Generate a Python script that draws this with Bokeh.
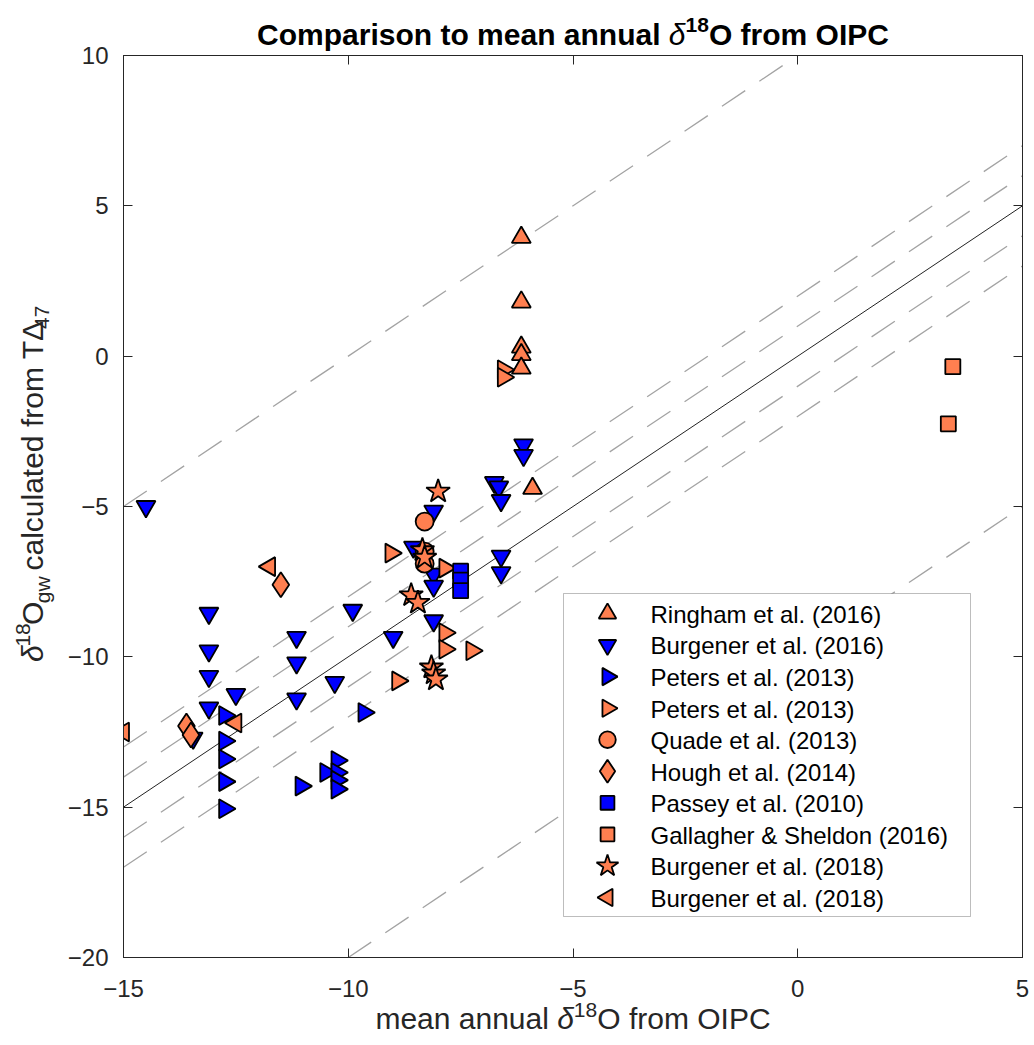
import numpy as np
from bokeh.plotting import figure
from bokeh.models import Range1d, FixedTicker, LinearAxis, Label, BoxAnnotation
from bokeh.layouts import column, row
from bokeh.embed import file_html
from bokeh.resources import INLINE

FONT = "Liberation Sans"
ORANGE = "#FF7F50"
BLUE = "#0000FF"
AX = "#262626"

# ---------------- data ----------------
ringham_x = [-6.15, -6.15, -6.15, -6.15, -6.15, -5.9]
ringham_y = [3.95, 1.8, 0.3, 0.05, -0.4, -4.4]

burgener16_x = [-14.5, -13.1, -13.1, -13.1, -13.1, -12.5, -13.45, -11.15, -11.15, -11.15,
                -10.3, -9.9, -9.0, -8.1, -8.55, -8.1, -8.1, -8.1, -6.1, -6.1,
                -6.75, -6.65, -6.6, -6.6, -6.6]
burgener16_y = [-5.0, -8.55, -9.8, -10.65, -11.7, -11.25, -12.7, -9.35, -10.2, -11.4,
                -10.85, -8.45, -9.35, -5.15, -6.35, -7.25, -7.65, -8.8, -2.95, -3.3,
                -4.2, -4.35, -4.8, -6.65, -7.2]

peters_blue_x = [-12.75, -12.75, -12.75, -12.75, -12.75, -11.05, -10.5, -10.25, -10.25, -10.25, -10.25, -9.65]
peters_blue_y = [-11.95, -12.8, -13.4, -14.15, -15.05, -14.3, -13.85, -13.45, -13.85, -14.1, -14.4, -11.85]

peters_orange_x = [-6.55, -6.55, -9.05, -7.85, -7.85, -7.85, -7.25, -8.9]
peters_orange_y = [-0.45, -0.7, -6.55, -7.05, -9.2, -9.75, -9.8, -10.8]

quade_x = [-8.3, -8.3, -8.3]
quade_y = [-5.5, -6.5, -6.9]

hough_x = [-11.5, -13.6, -13.5]
hough_y = [-7.6, -12.3, -12.6]

passey_x = [-7.5, -7.5, -7.5]
passey_y = [-7.15, -7.45, -7.8]

gallagher_x = [3.45, 3.35]
gallagher_y = [-0.35, -2.25]

burgener18_star_x = [-8.0, -8.35, -8.3, -8.6, -8.45, -8.15, -8.1, -8.05]
burgener18_star_y = [-4.5, -6.45, -6.7, -7.95, -8.2, -10.35, -10.55, -10.75]

burgener18_left_x = [-15.0, -11.75, -12.5]
burgener18_left_y = [-12.5, -7.0, -12.2]

x_ticks = [-15, -10, -5, 0, 5]
y_ticks = [-20, -15, -10, -5, 0, 5, 10]
dashed_offsets = [10, 2, 1, -1, -2, -10]
solid_offset = 0

series = [
    ("Ringham et al. (2016)", ringham_x, ringham_y, "triangle", 0.0, ORANGE, 19),
    ("Burgener et al. (2016)", burgener16_x, burgener16_y, "inverted_triangle", 0.0, BLUE, 19),
    ("Peters et al. (2013)", peters_blue_x, peters_blue_y, "triangle", -np.pi / 2, BLUE, 19),
    ("Peters et al. (2013)", peters_orange_x, peters_orange_y, "triangle", -np.pi / 2, ORANGE, 19),
    ("Quade et al. (2013)", quade_x, quade_y, "circle", 0.0, ORANGE, 18),
    ("Hough et al. (2014)", hough_x, hough_y, "diamond", 0.0, ORANGE, 25),
    ("Passey et al. (2010)", passey_x, passey_y, "square", 0.0, BLUE, 15),
    ("Gallagher & Sheldon (2016)", gallagher_x, gallagher_y, "square", 0.0, ORANGE, 15),
    ("Burgener et al. (2018)", burgener18_star_x, burgener18_star_y, "star", 0.0, ORANGE, 25),
    ("Burgener et al. (2018)", burgener18_left_x, burgener18_left_y, "triangle", np.pi / 2, ORANGE, 19),
]

# ---------------- layout geometry (page pixels) ----------------
TOTAL_W, TOTAL_H = 1034, 1045
FRAME_L, FRAME_T = 123, 55
FW, FH = 899, 902
YLAB_W = 62
TITLE_H, OVER_T = 55, 17          # title strip overlaps main figure's top border
XLAB_H, OVER_B = 50, 14           # x-label strip overlaps main figure's bottom border
MB_LEFT, MB_RIGHT, MB_TOP = FRAME_L - YLAB_W, 12, OVER_T
MAIN_TOP = TITLE_H - OVER_T
MB_BOTTOM = TOTAL_H - (XLAB_H - OVER_B) - (MAIN_TOP + MB_TOP + FH)
MAIN_H = MB_TOP + FH + MB_BOTTOM
BASE_SHIFT = 0.34  # Label baseline correction, in em
EDGE_W = 1.8

# ---------------- main figure ----------------
p = figure(frame_width=FW, frame_height=FH, x_range=Range1d(-15, 5), y_range=Range1d(-20, 10),
           min_border_left=MB_LEFT, min_border_right=MB_RIGHT, min_border_top=MB_TOP,
           min_border_bottom=MB_BOTTOM,
           output_backend="svg", toolbar_location=None, title=None,
           background_fill_color="white", border_fill_alpha=0)
p.xgrid.visible = False
p.ygrid.visible = False
p.outline_line_color = AX
p.extra_x_ranges = {"px": Range1d(0, FW)}
p.extra_y_ranges = {"px": Range1d(0, FH)}


def style_axis(ax, ticks, labels=True):
    ax.ticker = FixedTicker(ticks=ticks)
    ax.axis_line_color = AX
    ax.axis_line_width = 1
    ax.major_tick_line_color = AX
    ax.major_tick_line_width = 1
    ax.major_tick_in = 9
    ax.major_tick_out = 0
    ax.minor_tick_line_color = None
    ax.minor_tick_in = 0
    ax.minor_tick_out = 0
    ax.major_label_text_font = FONT
    ax.major_label_text_color = AX
    ax.major_label_text_font_size = "24px"
    ax.major_label_overrides = {v: str(v).replace("-", "\u2212") for v in ticks}
    ax.major_label_standoff = 22
    if not labels:
        ax.major_label_text_font_size = "0px"
        ax.major_label_text_color = None
        ax.major_label_standoff = 0


style_axis(p.xaxis[0], x_ticks)
style_axis(p.yaxis[0], y_ticks)
p.yaxis[0].major_label_standoff = 15
top_ax = LinearAxis()
right_ax = LinearAxis()
style_axis(top_ax, x_ticks, labels=False)
style_axis(right_ax, y_ticks, labels=False)
p.add_layout(top_ax, "above")
p.add_layout(right_ax, "right")

# reference lines
xs = np.array([-15.0, 5.0])
for off in dashed_offsets:
    p.line(xs, xs + off, line_color="#A3A3A3", line_width=1.3, line_dash="28 17")
p.line(xs, xs + solid_offset, line_color="#222222", line_width=1)

# data
for name, x, y, marker, ang, col, sz in series:
    p.scatter(x, y, marker=marker, angle=ang, size=sz, fill_color=col,
              line_color="black", line_width=EDGE_W)

# ---------------- legend (manual, keeps rotated triangles) ----------------
L_left, L_right, L_top, L_bottom = 440, 847, 364, 41
p.add_layout(BoxAnnotation(left=L_left, right=L_right, top=L_top, bottom=L_bottom,
                           x_range_name="px", y_range_name="px",
                           fill_color="white", fill_alpha=1.0,
                           line_color=AX, line_width=1, level="annotation"))
row0, pitch = L_top - 20, 31.56
for i, (name, x, y, marker, ang, col, sz) in enumerate(series):
    cy = row0 - i * pitch
    r = p.scatter([484], [cy], marker=marker, angle=ang, size=sz * 0.92, fill_color=col,
                  line_color="black", line_width=EDGE_W, x_range_name="px", y_range_name="px")
    r.level = "overlay"
    p.add_layout(Label(x=527, y=cy - 9 + BASE_SHIFT * 24, text=name,
                       x_range_name="px", y_range_name="px",
                       text_font=FONT, text_font_size="24px", text_color="black",
                       text_align="left", text_baseline="alphabetic", level="overlay"))


# ---------------- auxiliary text panels ----------------
def aux(w, h, margin=None):
    f = figure(width=w, height=h, x_range=Range1d(0, w), y_range=Range1d(0, h),
               min_border=0, output_backend="svg", toolbar_location=None, title=None,
               x_axis_location=None, y_axis_location=None,
               background_fill_alpha=0, border_fill_alpha=0)
    f.grid.visible = False
    f.outline_line_color = None
    if margin is not None:
        f.margin = margin
    return f


W = {' ': 0.278, 'a': 0.556, 'b': 0.556, 'c': 0.5, 'd': 0.556, 'e': 0.556, 'f': 0.278, 'g': 0.556,
     'h': 0.556, 'i': 0.222, 'l': 0.222, 'm': 0.833, 'n': 0.556, 'o': 0.556, 'p': 0.556, 'r': 0.333,
     's': 0.5, 't': 0.278, 'u': 0.556, 'w': 0.722, 'C': 0.722, 'I': 0.278, 'O': 0.778, 'P': 0.667,
     'T': 0.611, '\u0394': 1.0, '\u03b4': 0.556}
WB = {' ': 0.278, 'a': 0.556, 'e': 0.556, 'f': 0.333, 'i': 0.278, 'l': 0.278, 'm': 0.889,
      'n': 0.611, 'o': 0.611, 'p': 0.611, 'r': 0.389, 's': 0.556, 't': 0.333, 'u': 0.611,
      'C': 0.722, 'I': 0.278, 'O': 0.778, 'P': 0.667, '\u03b4': 0.556}


def width(text, size, bold):
    table = WB if bold else W
    return sum(table.get(c, 0.556) for c in text) * size


def rich(fig, pieces, center, base, vertical=False, color=AX):
    total = sum(width(t, s, b) for t, s, rz, b, it in pieces)
    pos = center - total / 2
    for t, s, rz, b, it in pieces:
        stripped = t.lstrip(" ")
        lead = width(t[:len(t) - len(stripped)], s, b)
        style = ("bold " if b else "") + ("italic" if it else "")
        style = style.strip() or "normal"
        up = rz + BASE_SHIFT * s
        if vertical:
            lab = Label(x=base - up, y=pos + lead, angle=np.pi / 2, text=stripped)
        else:
            lab = Label(x=pos + lead, y=base + up, text=stripped)
        lab.update(text_font=FONT, text_font_size=f"{s}px", text_font_style=style,
                   text_color=color, text_align="left", text_baseline="alphabetic")
        fig.add_layout(lab)
        pos += width(t, s, b)


title_pieces = [("Comparison to mean annual ", 30, 0, True, False),
                ("\u03b4", 30, 0, False, True),
                ("18", 21, 12, True, False),
                ("O from OIPC", 30, 0, True, False)]
xlabel_pieces = [("mean annual ", 30, 0, False, False),
                 ("\u03b4", 30, 0, False, True),
                 ("18", 21, 11, False, False),
                 ("O from OIPC", 30, 0, False, False)]
ylabel_pieces = [("\u03b4", 30, 0, False, True),
                 ("18", 21, 12, False, False),
                 ("O", 30, 0, False, False),
                 ("gw", 21, -7, False, False),
                 (" calculated from T\u0394", 30, 0, False, False),
                 ("47", 21, -7, False, False)]

frame_cx = FRAME_L + FW / 2

title_fig = aux(TOTAL_W, TITLE_H, margin=(0, 0, -OVER_T, 0))
rich(title_fig, title_pieces, frame_cx, TITLE_H - 44, color="black")

ylab_fig = aux(YLAB_W, MAIN_H)
rich(ylab_fig, ylabel_pieces, (MAIN_TOP + MAIN_H) - 500, 42, vertical=True)

xlab_fig = aux(TOTAL_W, XLAB_H, margin=(-OVER_B, 0, 0, 0))
rich(xlab_fig, xlabel_pieces, frame_cx, TOTAL_H - 1028)

layout = column(title_fig, row(ylab_fig, p), xlab_fig)
open("out.html", "w").write(file_html(layout, INLINE))
